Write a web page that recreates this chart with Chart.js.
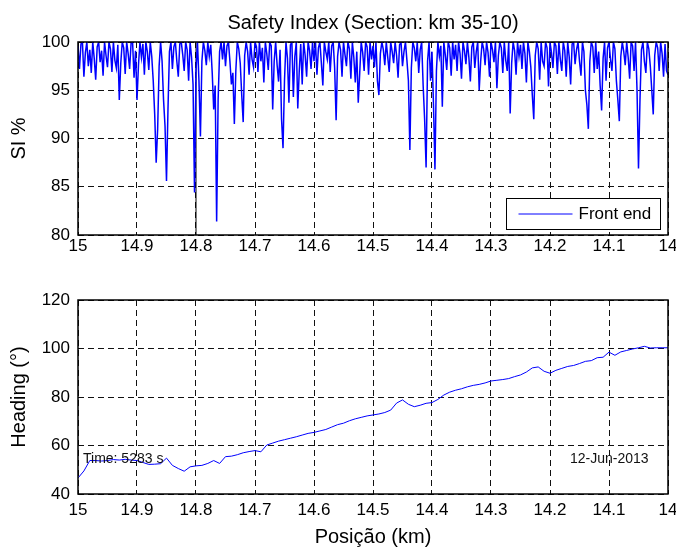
<!DOCTYPE html>
<html><head><meta charset="utf-8">
<script src="https://cdn.jsdelivr.net/npm/chart.js@4.4.0/dist/chart.umd.min.js"></script>
<style>
html,body{margin:0;padding:0;background:#fff;}
#wrap{position:relative;width:676px;height:548px;background:#fff;}
.box{position:absolute;left:0;width:676px;}
</style></head><body>
<div id="wrap">
<div class="box" style="top:0;height:270px"><canvas id="c1" width="676" height="270"></canvas></div>
<div class="box" style="top:270px;height:278px"><canvas id="c2" width="676" height="278"></canvas></div>
</div>
<script>
const FONT = "'Liberation Sans', Arial, Helvetica, sans-serif";

// ---- data ----
const siStartKm = 15;
const siStepKm = 0.0025;
const siValues = [
99.6,97.2,99.8,100,96.4,98.9,100,97.5,99.2,96.8,
100,98.3,96.1,99.5,100,97.9,99.1,96.5,100,98.6,
97.4,100,99.3,96.9,100,98.1,97.3,99.7,94.0,97.8,
100,99.4,96.7,100,98.8,97.2,99.9,100,96.3,99.1,
94.0,97.6,100,98.4,99.8,96.6,100,99.0,97.1,100,
98.5,96.0,92.5,87.5,91.0,97.5,100,98.0,94.0,91.3,
85.6,93.0,99.0,100,97.2,99.5,100,98.0,96.4,99.8,
100,98.7,97.0,100,99.2,96.0,100,98.4,95.6,84.4,
97.0,100,96.0,90.2,98.0,100,99.1,97.6,100,98.5,
99.7,96.8,93.0,95.5,81.4,94.0,99.0,100,98.2,100,
97.5,99.6,100,98.0,95.6,96.8,91.5,97.0,100,99.3,
97.8,94.5,91.7,98.6,100,99.0,96.6,100,98.2,97.4,
100,99.5,96.9,100,98.0,99.4,95.8,100,98.8,97.1,
100,99.6,93.0,98.0,100,97.6,95.9,99.2,92.0,89.0,
96.0,100,98.3,93.7,99.7,100,94.3,98.5,100,93.1,
97.0,99.8,95.6,100,98.6,96.4,100,99.1,97.2,100,
98.0,100,96.6,99.4,100,97.8,95.5,100,99.0,98.2,
100,96.9,99.6,100,97.3,91.9,98.5,100,99.2,96.4,
100,98.7,97.5,100,99.3,96.2,100,98.4,95.8,99.0,
93.7,96.8,100,98.9,97.0,100,99.5,96.6,100,98.2,
99.6,97.4,100,96.0,94.5,98.8,100,99.2,97.6,100,
98.4,96.9,100,99.0,97.8,100,98.6,96.3,99.7,100,
97.5,99.0,100,98.1,96.0,88.8,97.3,100,99.4,98.0,
100,96.8,99.2,100,95.5,92.0,87.0,98.0,100,96.0,
99.0,93.5,86.8,97.0,100,98.5,99.6,93.3,100,98.7,
97.1,100,99.4,96.5,100,98.2,99.7,97.0,100,98.8,
96.2,100,99.1,97.7,100,98.4,95.9,99.5,100,97.3,
99.0,100,95.0,98.0,100,99.3,97.6,100,98.9,96.4,
100,99.2,97.9,100,95.2,98.6,100,99.4,96.8,100,
98.1,97.0,100,92.6,97.8,100,99.1,96.6,100,98.5,
99.7,97.2,100,98.8,95.8,100,99.0,97.4,94.5,92.0,
98.6,100,99.3,96.1,100,98.0,97.5,100,99.4,95.4,
100,98.9,97.3,100,99.6,96.7,100,98.2,97.0,100,
99.1,96.4,100,98.5,95.6,99.8,100,97.7,99.2,100,
98.0,96.5,100,99.0,95.0,93.5,91.0,98.0,100,99.5,
96.8,100,97.2,99.0,95.5,92.9,98.3,100,96.0,99.4,
100,98.2,97.0,100,99.3,96.0,94.0,91.8,98.5,100,
99.0,97.6,100,98.4,96.2,100,99.6,97.0,100,95.0,
86.9,94.0,99.2,100,98.0,96.8,100,99.3,97.5,95.0,
92.5,98.6,100,99.4,97.0,100,98.8,96.4,99.8,97.0,
96.6
];

const headingStartKm = 15;
const headingStepKm = 0.01;
const headingValues = [
46.6,49.5,53.8,53.8,53.6,53.8,54.2,54.0,54.3,54.0,
53.8,53.0,52.2,52.3,52.5,54.8,51.8,50.5,49.4,51.2,
51.6,51.8,52.6,53.8,52.6,55.4,55.6,56.2,57.0,57.5,
57.9,57.4,60.2,61.0,61.8,62.4,63.0,63.6,64.3,65.0,
65.4,66.0,66.6,67.6,68.6,69.2,70.2,71.0,71.6,72.2,
72.6,73.0,73.6,74.6,77.5,78.8,77.0,76.0,76.6,77.4,
77.7,79.0,80.8,82.0,82.8,83.4,84.2,84.8,85.2,85.8,
86.6,86.9,87.2,87.6,88.4,89.1,90.3,92.0,92.4,90.6,
89.8,91.0,91.8,92.6,93.0,93.8,94.7,95.0,96.2,96.4,
98.5,97.2,98.6,99.2,99.8,100.3,100.9,100.2,100.3,100.3,
100.3
];

const markerKm = [14.8, 14.8];
const markerSI = [80, 100];

const xTickValues = [15, 14.9, 14.8, 14.7, 14.6, 14.5, 14.4, 14.3, 14.2, 14.1, 14];
const siTickValues = [80, 85, 90, 95, 100];
const headingTickValues = [40, 60, 80, 100, 120];

const topTitle = 'Safety Index (Section: km 35-10)';
const siAxisTitle = 'SI %';
const headingAxisTitle = 'Heading (°)';
const xAxisTitle = 'Posição (km)';
const seriesLabel = 'Front end';
const timeNote = 'Time: 5283 s';
const dateNote = '12-Jun-2013';

// ---- build ----
const siPoints = siValues.map((v, i) => ({x: siStartKm - i * siStepKm, y: v}));
const headingPoints = headingValues.map((v, i) => ({x: headingStartKm - i * headingStepKm, y: v}));
const markerPoints = markerKm.map((k, i) => ({x: k, y: markerSI[i]}));

const BLUE = '#0000ff';

function xScale(tickPad, height) {
  return {
    type: 'linear', reverse: true, min: 14, max: 15,
    afterBuildTicks: s => { s.ticks = xTickValues.map(v => ({value: v})); },
    ticks: {font: {family: FONT, size: 17}, color: '#000', padding: tickPad, maxRotation: 0, autoSkip: false,
            callback: v => String(v)},
    grid: {color: '#111', lineWidth: 1, drawTicks: false},
    border: {display: false, dash: [6, 4]},
    afterFit: s => { s.height = height; s.paddingLeft = 0; s.paddingRight = 0; }
  };
}
function yScale(min, max, ticksArr, title) {
  return {
    type: 'linear', min, max,
    afterBuildTicks: s => { s.ticks = ticksArr.map(v => ({value: v})); },
    ticks: {font: {family: FONT, size: 17}, color: '#000', padding: 8, callback: v => String(v)},
    grid: {color: '#111', lineWidth: 1, drawTicks: false},
    border: {display: false, dash: [6, 4]},
    title: {display: true, text: title, color: '#000', font: {family: FONT, size: 20, lineHeight: 1}, padding: {top: 9, bottom: 0}},
    afterFit: s => { s.width = 78; s.paddingTop = 0; s.paddingBottom = 0; }
  };
}

const frame = {
  id: 'frame',
  afterDatasetsDraw(chart) {
    const {ctx, chartArea: a} = chart;
    ctx.save();
    ctx.strokeStyle = '#000';
    ctx.lineWidth = 1.5;
    ctx.setLineDash([]);
    ctx.strokeRect(a.left, a.top, a.right - a.left, a.bottom - a.top);
    ctx.restore();
  }
};

const topDecor = {
  id: 'topDecor',
  afterDraw(chart) {
    const {ctx, chartArea: a} = chart;
    ctx.save();
    ctx.fillStyle = '#000';
    ctx.font = '20px ' + FONT;
    ctx.textAlign = 'center';
    ctx.textBaseline = 'middle';
    ctx.fillText(topTitle, (a.left + a.right) / 2, a.top - 19);
    const bx = a.right - 161.5, by = a.bottom - 36.5, bw = 154, bh = 31;
    ctx.fillStyle = '#fff';
    ctx.fillRect(bx, by, bw, bh);
    ctx.strokeStyle = '#000';
    ctx.lineWidth = 1;
    ctx.strokeRect(bx, by, bw, bh);
    ctx.strokeStyle = BLUE;
    ctx.beginPath();
    ctx.moveTo(bx + 12, by + 15.5);
    ctx.lineTo(bx + 66, by + 15.5);
    ctx.stroke();
    ctx.fillStyle = '#000';
    ctx.font = '17px ' + FONT;
    ctx.textAlign = 'left';
    ctx.fillText(chart.data.datasets[0].label, bx + 72, by + 16);
    ctx.restore();
  }
};

const bottomDecor = {
  id: 'bottomDecor',
  afterDraw(chart) {
    const {ctx, chartArea: a} = chart;
    ctx.save();
    ctx.fillStyle = '#111';
    ctx.font = '14px ' + FONT;
    ctx.textBaseline = 'middle';
    ctx.textAlign = 'left';
    ctx.fillText(timeNote, a.left + 5, a.bottom - 35);
    ctx.fillText(dateNote, a.right - 98, a.bottom - 35);
    ctx.restore();
  }
};

new Chart(document.getElementById('c1'), {
  type: 'line',
  data: {datasets: [
    {label: seriesLabel, data: siPoints, borderColor: BLUE, borderWidth: 1.5, pointRadius: 0, tension: 0, fill: false},
    {label: '', data: markerPoints, borderColor: '#000', borderWidth: 1, pointRadius: 0, fill: false}
  ]},
  options: {
    responsive: false, animation: false, devicePixelRatio: 1,
    layout: {padding: {top: 42, right: 8, bottom: 0, left: 0}},
    plugins: {legend: {display: false}, tooltip: {enabled: false}, title: {display: false}},
    scales: {x: xScale(1, 35), y: yScale(80, 100, siTickValues, siAxisTitle)}
  },
  plugins: [frame, topDecor]
});

const x2 = xScale(6, 54);
x2.title = {display: true, text: xAxisTitle, color: '#000', font: {family: FONT, size: 20, lineHeight: 1}, padding: {top: 0, bottom: 1}};

new Chart(document.getElementById('c2'), {
  type: 'line',
  data: {datasets: [
    {label: 'Heading', data: headingPoints, borderColor: BLUE, borderWidth: 1, pointRadius: 0, tension: 0, fill: false}
  ]},
  options: {
    responsive: false, animation: false, devicePixelRatio: 1,
    layout: {padding: {top: 30, right: 8, bottom: 0, left: 0}},
    plugins: {legend: {display: false}, tooltip: {enabled: false}, title: {display: false}},
    scales: {x: x2, y: yScale(40, 120, headingTickValues, headingAxisTitle)}
  },
  plugins: [frame, bottomDecor]
});
</script>
</body></html>
